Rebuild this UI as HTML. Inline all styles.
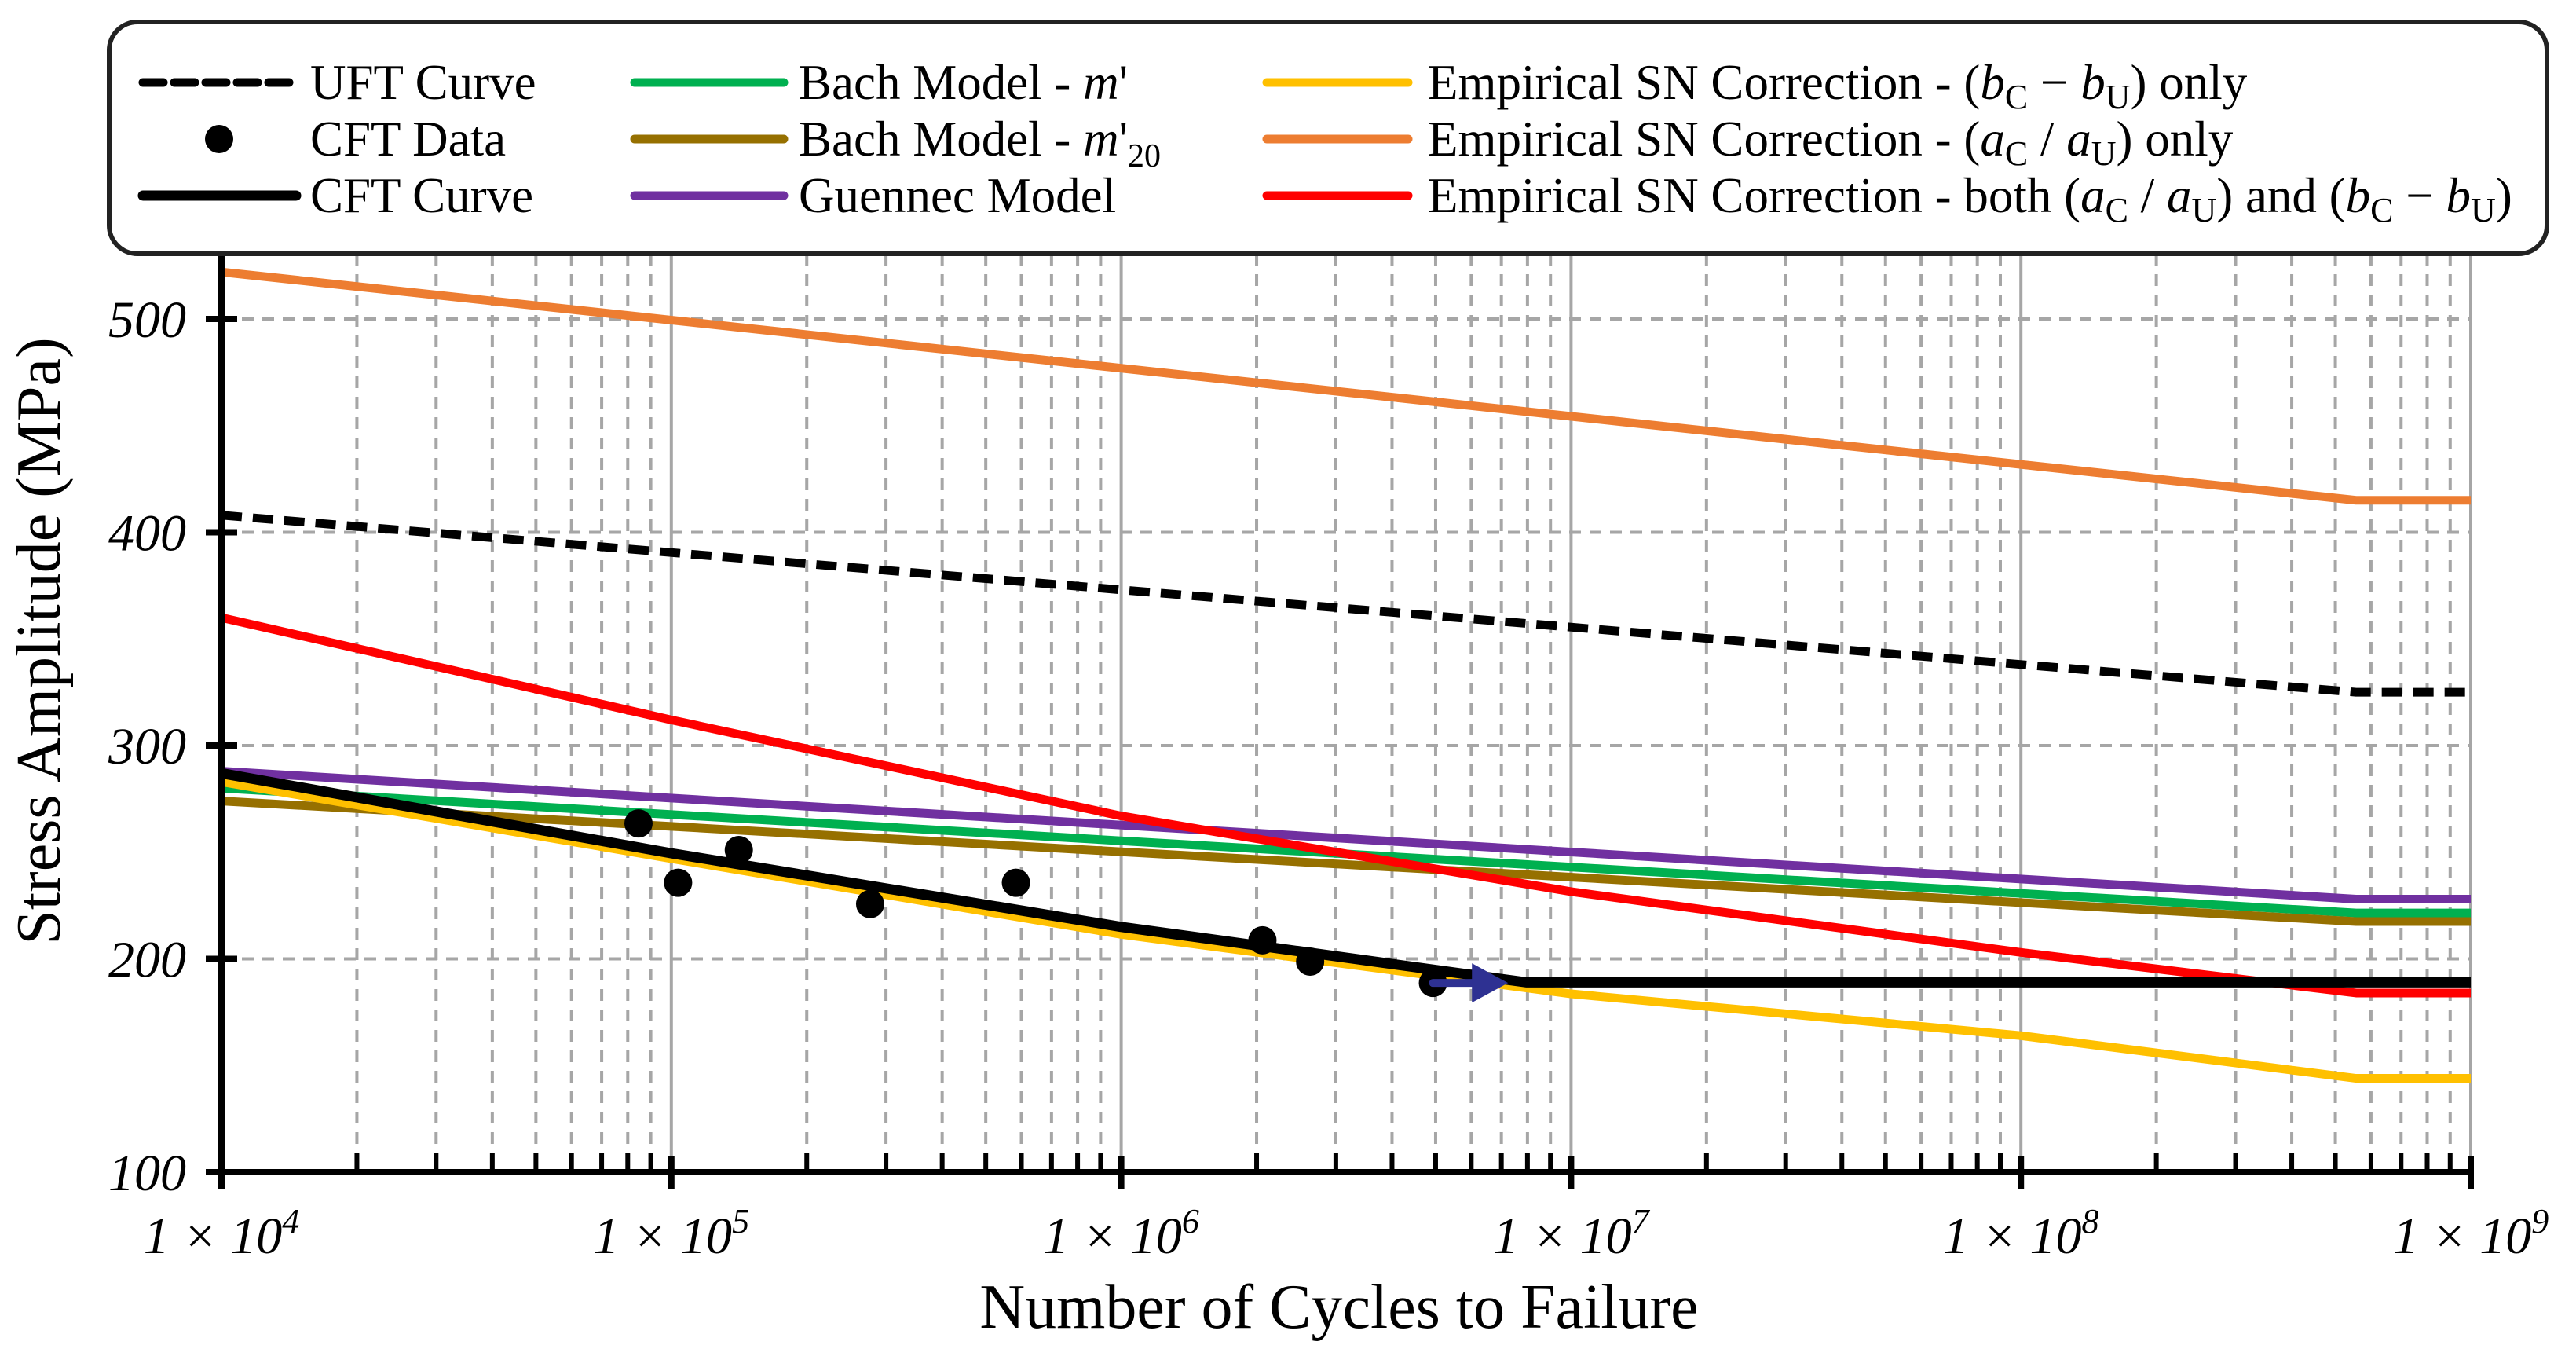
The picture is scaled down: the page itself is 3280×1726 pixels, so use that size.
<!DOCTYPE html>
<html><head><meta charset="utf-8"><style>
html,body{margin:0;padding:0;background:#fff}
svg{display:block}
text{font-family:"Liberation Serif",serif}
</style></head><body>
<svg id="chart" width="3280" height="1726" viewBox="0 0 3280 1726" xmlns="http://www.w3.org/2000/svg">
<g id="grid"></g>
<g id="series"></g>
<g id="axes"></g>
<text transform="translate(76,816) rotate(-90)" text-anchor="middle" font-size="80">Stress Amplitude (MPa)</text>
<text x="1705" y="1690" text-anchor="middle" font-size="80">Number of Cycles to Failure</text>
<g>
<rect x="139" y="28" width="3104" height="295" rx="36" fill="#fff" stroke="#222" stroke-width="6"/>
<g font-size="63">
<line x1="182" y1="105" x2="377" y2="105" stroke="#000" stroke-width="11" stroke-dasharray="26 14" stroke-linecap="round"/>
<text x="395" y="126">UFT Curve</text>
<circle cx="279" cy="177" r="18" fill="#000"/>
<text x="395" y="198">CFT Data</text>
<line x1="182" y1="249" x2="377" y2="249" stroke="#000" stroke-width="13" stroke-linecap="round"/>
<text x="395" y="270">CFT Curve</text>
<line x1="808" y1="105" x2="998" y2="105" stroke="#00b050" stroke-width="11" stroke-linecap="round"/>
<text x="1017" y="126">Bach Model - <tspan font-style="italic">m</tspan>'</text>
<line x1="808" y1="177" x2="998" y2="177" stroke="#967000" stroke-width="11" stroke-linecap="round"/>
<text x="1017" y="198">Bach Model - <tspan font-style="italic">m</tspan>'<tspan font-size="42" dy="14">20</tspan></text>
<line x1="808" y1="249" x2="998" y2="249" stroke="#7030a0" stroke-width="11" stroke-linecap="round"/>
<text x="1017" y="270">Guennec Model</text>
<line x1="1613" y1="105" x2="1793" y2="105" stroke="#ffc000" stroke-width="11" stroke-linecap="round"/>
<text x="1818" y="126">Empirical SN Correction - (<tspan font-style="italic">b</tspan><tspan font-size="44" dy="12">C</tspan><tspan dy="-12"> − </tspan><tspan font-style="italic">b</tspan><tspan font-size="44" dy="12">U</tspan><tspan dy="-12">) only</tspan></text>
<line x1="1613" y1="177" x2="1793" y2="177" stroke="#ed7d31" stroke-width="11" stroke-linecap="round"/>
<text x="1818" y="198">Empirical SN Correction - (<tspan font-style="italic">a</tspan><tspan font-size="44" dy="12">C</tspan><tspan dy="-12"> / </tspan><tspan font-style="italic">a</tspan><tspan font-size="44" dy="12">U</tspan><tspan dy="-12">) only</tspan></text>
<line x1="1613" y1="249" x2="1793" y2="249" stroke="#ff0000" stroke-width="11" stroke-linecap="round"/>
<text x="1818" y="270">Empirical SN Correction - both (<tspan font-style="italic">a</tspan><tspan font-size="44" dy="12">C</tspan><tspan dy="-12"> / </tspan><tspan font-style="italic">a</tspan><tspan font-size="44" dy="12">U</tspan><tspan dy="-12">) and (</tspan><tspan font-style="italic">b</tspan><tspan font-size="44" dy="12">C</tspan><tspan dy="-12"> − </tspan><tspan font-style="italic">b</tspan><tspan font-size="44" dy="12">U</tspan><tspan dy="-12">)</tspan></text>
</g>
</g>
</svg>
<script>
const xDecades = [4,5,6,7,8,9];
const yTicks = [100,200,300,400,500];
const logKnee = 8.745;
const uftVals = [408, 325];
const orangeVals = [522, 415];
const purpleVals = [288, 228];
const greenVals = [280, 221.5];
const brownVals = [274, 217.5];
const curveLogN = [4, 5, 6, 7, 8, 8.745, 9];
const redVals = [360, 312, 267, 231.5, 203, 184, 184];
const yellowVals = [283, 247, 211.5, 183.6, 164, 144, 144];
const cftCurveLogN = [4, 5, 6, 6.9, 9];
const cftCurveS = [287, 249.5, 215, 189, 189];
const cftLogN = [4.927,5.015,5.150,5.442,5.766,6.314,6.420,6.693];
const cftS = [263.5,235.7,251,225.7,235.7,208.7,198.7,188.7];
const arrowLogN = [6.693, 6.86];
const arrowS = [188.7, 188.7];

const X0=282, X1=3146, Y100=1492, Y500=406, TOP=323;
const sx = l => X0 + (l-4)*(X1-X0)/5;
const sy = v => Y100 - (v-100)*(Y100-Y500)/400;
const NS='http://www.w3.org/2000/svg';
function mk(tag, attrs, parent){const e=document.createElementNS(NS,tag);for(const k in attrs)e.setAttribute(k,attrs[k]);parent.appendChild(e);return e;}
const grid=document.getElementById('grid'), series=document.getElementById('series'), axes=document.getElementById('axes');

for(let d=4; d<9; d++){
  for(let m=2;m<=9;m++){
    const x=sx(d+Math.log10(m));
    const g=mk('line',{x1:x,y1:TOP,x2:x,y2:Y100,stroke:'#a6a6a6','stroke-width':4,'stroke-dasharray':'15 11'},grid);
    
    
    const t=mk('line',{x1:x,y1:Y100,x2:x,y2:Y100-24,stroke:'#000','stroke-width':6},axes);
    
    
  }
}
xDecades.forEach(d=>{
  const x=sx(d);
  const g=mk('line',{x1:x,y1:TOP,x2:x,y2:Y100,stroke:'#a6a6a6','stroke-width':4},grid);
  
  
  const t=mk('line',{x1:x,y1:Y100-20,x2:x,y2:Y100+22,stroke:'#000','stroke-width':8},axes);
  
  
  const tx=mk('text',{x:x,y:1595,'text-anchor':'middle','font-size':66,'font-style':'italic'},axes);
  
  
  tx.textContent='1 × 10';
  const sp=mk('tspan',{'font-size':44,dy:-26},tx); sp.textContent=String(d);
});
yTicks.forEach(v=>{
  const y=sy(v);
  if(v>100){
    const g=mk('line',{x1:X0,y1:y,x2:X1,y2:y,stroke:'#a6a6a6','stroke-width':4,'stroke-dasharray':'15 11'},grid);
    
    
  }
  const t=mk('line',{x1:X0-20,y1:y,x2:X0+20,y2:y,stroke:'#000','stroke-width':8},axes);
  
  
  const tx=mk('text',{x:237,y:y+23,'text-anchor':'end','font-size':66,'font-style':'italic'},axes);
  
  
  tx.textContent=String(v);
});
const ya=mk('line',{x1:X0,y1:TOP,x2:X0,y2:Y100+4,stroke:'#000','stroke-width':8},axes);


const xa=mk('line',{x1:X0-20,y1:Y100,x2:X1+4,y2:Y100,stroke:'#000','stroke-width':8},axes);



function poly(ls,vs,color,w,name,dash){
  const pts=ls.map((l,i)=>sx(l)+','+sy(vs[i])).join(' ');
  const a={points:pts,fill:'none',stroke:color,'stroke-width':w,'stroke-linejoin':'round'};
  if(dash){a['stroke-dasharray']=dash;}
  const e=mk('polyline',a,series);
  
  
}
function kneeLine(vals,color,w,name,dash){
  poly([4,logKnee,9],[vals[0],vals[1],vals[1]],color,w,name,dash);
}
kneeLine(orangeVals,'#ed7d31',11,'empirical-ac-au-line');
kneeLine(uftVals,'#000',11,'uft-curve','26 14');
kneeLine(greenVals,'#00b050',11,'bach-m-line');
kneeLine(brownVals,'#967000',11,'bach-m20-line');
kneeLine(purpleVals,'#7030a0',11,'guennec-line');
poly(curveLogN,redVals,'#ff0000',11,'empirical-both-line');
poly(curveLogN,yellowVals,'#ffc000',11,'empirical-bc-bu-line');
poly(cftCurveLogN,cftCurveS,'#000',13,'cft-curve');
cftLogN.forEach((l,i)=>{
  const c=mk('circle',{cx:sx(l),cy:sy(cftS[i]),r:18,fill:'#000'},series);
  
  
});
const ax1=sx(arrowLogN[0]), ax2=sx(arrowLogN[1]), ay=sy(arrowS[0]);
const al=mk('line',{x1:ax1,y1:ay,x2:ax2-40,y2:ay,stroke:'#2e3192','stroke-width':10,'stroke-linecap':'round'},series);


const ah=mk('polygon',{points:`${ax2-46},${ay-25} ${ax2},${ay} ${ax2-46},${ay+25}`,fill:'#2e3192'},series);


</script>
</body></html>
